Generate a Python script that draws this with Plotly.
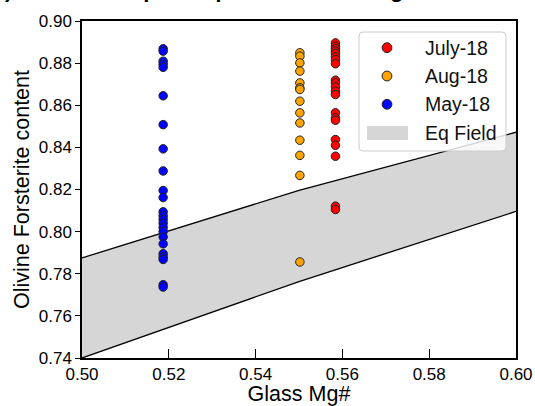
import plotly.graph_objects as go

# ---- data ----
may_x = 0.5187
may_fo = [0.8868, 0.8857, 0.8809, 0.8795, 0.8780, 0.8645, 0.8508, 0.8393, 0.8288,
          0.8195, 0.8162, 0.8094, 0.8075, 0.8058, 0.8040, 0.8020, 0.8001, 0.7975,
          0.7942, 0.7895, 0.7880, 0.7868, 0.7748, 0.7737]
aug_x = 0.5502
aug_fo = [0.8849, 0.8833, 0.8801, 0.8762, 0.8706, 0.8683, 0.8675, 0.8619, 0.8564,
          0.8516, 0.8434, 0.8362, 0.8267, 0.7856]
jul_x = 0.5584
jul_fo = [0.8896, 0.8880, 0.8868, 0.8857, 0.8846, 0.8830, 0.8817, 0.8797, 0.8719,
          0.8706, 0.8687, 0.8667, 0.8651, 0.8564, 0.8540, 0.8529, 0.8437, 0.8410,
          0.8358, 0.8121, 0.8105]
eq_mg = [0.50, 0.55, 0.60]
eq_upper = [0.7875, 0.8196, 0.8472]
eq_lower = [0.7400, 0.7763, 0.8096]

x_ticks = [0.50, 0.52, 0.54, 0.56, 0.58, 0.60]
y_ticks = [0.74, 0.76, 0.78, 0.80, 0.82, 0.84, 0.86, 0.88, 0.90]

legend_names = ["July-18", "Aug-18", "May-18"]
legend_colors = ["#ff0000", "#ffa500", "#0000ff"]
FIELD_COLOR = "#d6d6d6"

FONT = "Liberation Sans, Arial, sans-serif"

W, H = 535, 406
ML, MR, MT, MB = 82, 19, 21, 48
PW, PH = W - ML - MR, H - MT - MB


def px_x(px):
    return (px - ML) / PW


def px_y(py):
    return (H - MB - py) / PH


fig = go.Figure()

# equilibrium field
fig.add_trace(go.Scatter(
    x=eq_mg + eq_mg[::-1], y=eq_upper + eq_lower[::-1],
    fill="toself", fillcolor=FIELD_COLOR, mode="lines",
    line=dict(width=0, color=FIELD_COLOR), name="Eq Field",
    hoverinfo="skip"))
for ys in (eq_upper, eq_lower):
    fig.add_trace(go.Scatter(x=eq_mg, y=ys, mode="lines",
                             line=dict(color="black", width=1.3),
                             hoverinfo="skip"))

mk = dict(size=8.5, line=dict(color="#222222", width=1))
for xv, ys, nm, col in ((jul_x, jul_fo, "July-18", legend_colors[0]),
                        (aug_x, aug_fo, "Aug-18", legend_colors[1]),
                        (may_x, may_fo, "May-18", legend_colors[2])):
    fig.add_trace(go.Scatter(x=[xv] * len(ys), y=ys, mode="markers", name=nm,
                             marker=dict(color=col, **mk)))

# ---- legend (drawn by hand to get the rounded box and wide patch) ----
shapes = []
annotations = []
bx0, bx1, by0, by1, r = 359, 506, 32, 151, 4
rx, ry = r / PW, r / PH
X0, X1, Y0, Y1 = px_x(bx0), px_x(bx1), px_y(by1), px_y(by0)
path = (f"M {X0+rx} {Y1} L {X1-rx} {Y1} Q {X1} {Y1} {X1} {Y1-ry} "
        f"L {X1} {Y0+ry} Q {X1} {Y0} {X1-rx} {Y0} L {X0+rx} {Y0} "
        f"Q {X0} {Y0} {X0} {Y0+ry} L {X0} {Y1-ry} Q {X0} {Y1} {X0+rx} {Y1} Z")
shapes.append(dict(type="path", xref="paper", yref="paper", path=path,
                   fillcolor="rgba(255,255,255,0.82)",
                   line=dict(color="#cccccc", width=1), layer="above"))
row_y = [47.7, 76.0, 104.3, 132.6]
for nm, col, cy in zip(legend_names, legend_colors, row_y):
    shapes.append(dict(type="circle", xref="paper", yref="paper",
                       xsizemode="pixel", ysizemode="pixel",
                       xanchor=px_x(387), yanchor=px_y(cy),
                       x0=-4.9, x1=4.9, y0=-4.9, y1=4.9,
                       fillcolor=col, line=dict(color="#222222", width=1),
                       layer="above"))
    annotations.append(dict(text=nm, xref="paper", yref="paper",
                            x=px_x(423), y=px_y(cy), xanchor="left",
                            yanchor="middle", showarrow=False,
                            font=dict(size=19.5, family=FONT, color="#111111")))
shapes.append(dict(type="rect", xref="paper", yref="paper",
                   x0=px_x(367), x1=px_x(408), y0=px_y(140), y1=px_y(126),
                   fillcolor=FIELD_COLOR, line=dict(width=0), layer="above"))
annotations.append(dict(text="Eq Field", xref="paper", yref="paper",
                        x=px_x(423), y=px_y(row_y[3]), xanchor="left",
                        yanchor="middle", showarrow=False,
                        font=dict(size=19.5, family=FONT, color="#111111")))

# title, mostly above the visible page as in the reference
annotations.append(dict(
    text="<b>(by day) Olivine comp. to equilibrium Kd range</b>",
    xref="paper", yref="paper", x=px_x(-74), y=px_y(3.5),
    xanchor="left", yanchor="bottom", showarrow=False,
    font=dict(size=22, family=FONT, color="black")))

fig.update_layout(
    width=W, height=H,
    margin=dict(l=ML, r=MR, t=MT, b=MB, autoexpand=False),
    paper_bgcolor="white", plot_bgcolor="white",
    font=dict(family=FONT, color="black", size=17),
    showlegend=False,
    xaxis=dict(range=[0.50, 0.60], tickvals=x_ticks,
               ticktext=[f"{v:.2f}" for v in x_ticks],
               ticks="inside", ticklen=9, tickwidth=1, tickcolor="black",
               showline=True, linecolor="black", linewidth=1.5, mirror=True,
               showgrid=False, zeroline=False, automargin=False,
               tickfont=dict(size=17, family=FONT),
               title=dict(text="Glass Mg#", font=dict(size=21.5, family=FONT),
                          standoff=7)),
    yaxis=dict(range=[0.74, 0.90], tickvals=y_ticks,
               ticktext=[f"{v:.2f}" for v in y_ticks],
               ticks="outside", ticklen=5, tickwidth=1, tickcolor="black",
               showline=True, linecolor="black", linewidth=1.5, mirror=True,
               showgrid=False, zeroline=False, automargin=False,
               tickfont=dict(size=17, family=FONT),
               title=dict(text="Olivine Forsterite content",
                          font=dict(size=21.5, family=FONT), standoff=3)),
    shapes=shapes,
    annotations=annotations,
)

fig.write_html("out.html")
